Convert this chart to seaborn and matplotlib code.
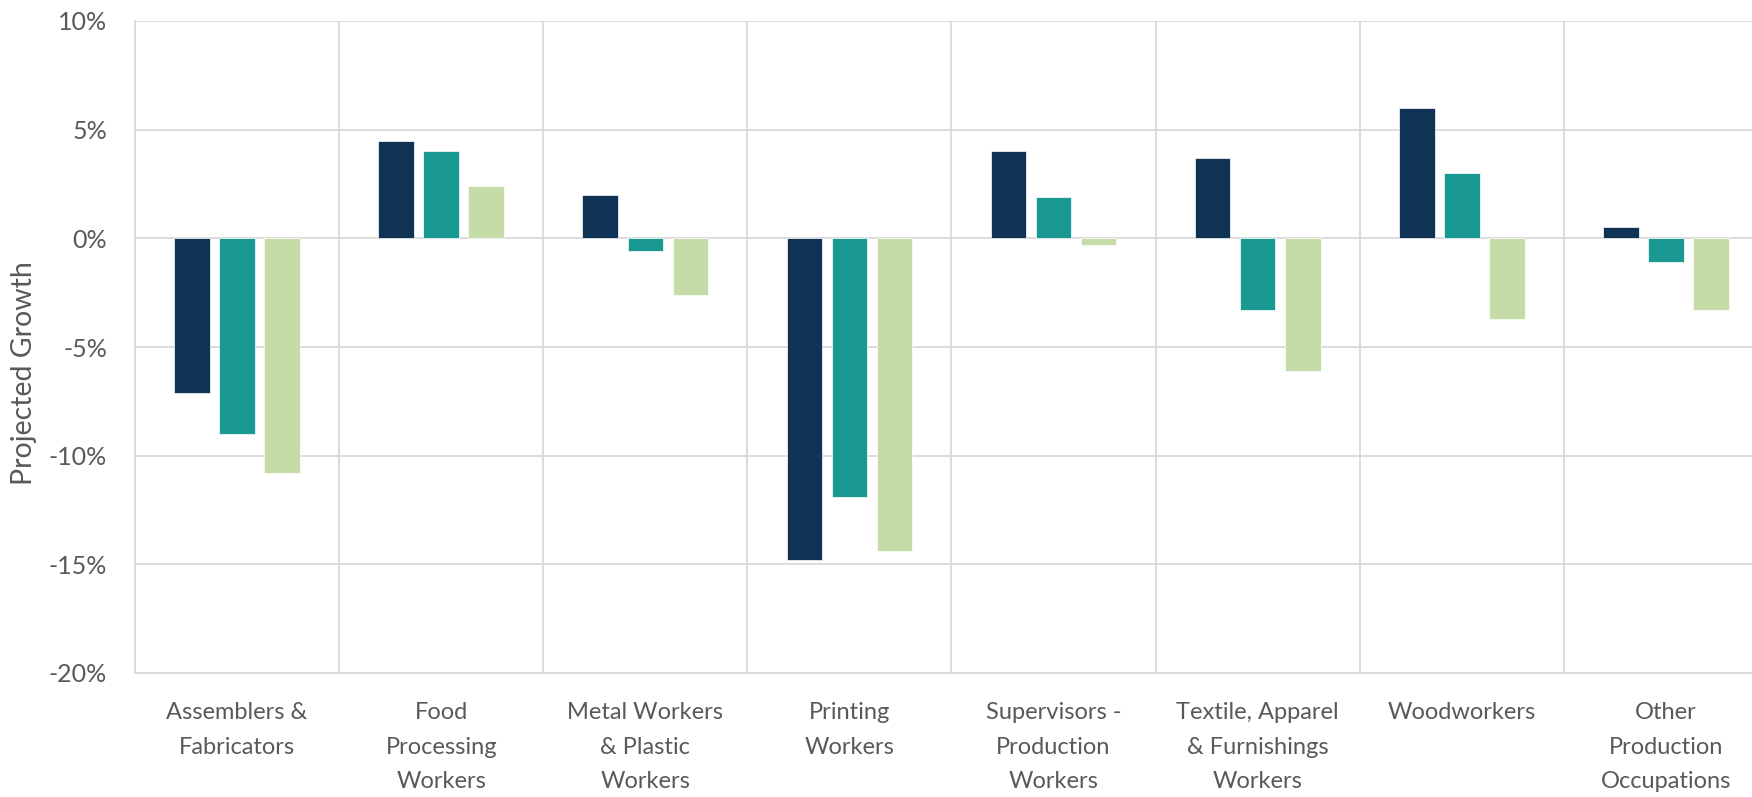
import matplotlib
matplotlib.use("Agg")
import matplotlib.pyplot as plt
from matplotlib.ticker import FuncFormatter, FixedLocator
import seaborn as sns
import pandas as pd
import numpy as np

# Chart data (projected growth, percent)
categories = [
    "Assemblers &\nFabricators",
    "Food\nProcessing\nWorkers",
    "Metal Workers\n& Plastic\nWorkers",
    "Printing\nWorkers",
    "Supervisors -\nProduction\nWorkers",
    "Textile, Apparel\n& Furnishings\nWorkers",
    "Woodworkers",
    "Other\nProduction\nOccupations",
]
series_names = ["Series 1", "Series 2", "Series 3"]
series_1 = [-7.1, 4.5, 2.0, -14.8, 4.0, 3.7, 6.0, 0.5]
series_2 = [-9.0, 4.0, -0.6, -11.9, 1.9, -3.3, 3.0, -1.1]
series_3 = [-10.8, 2.4, -2.6, -14.4, -0.3, -6.1, -3.7, -3.3]
y_ticks = [-20, -15, -10, -5, 0, 5, 10]

colors = ["#0e3354", "#1a9892", "#c5dca9"]
text_color = "#595959"
grid_color = "#d9d9d9"

# Long-form table for seaborn
df = pd.DataFrame({
    "occupation": categories * 3,
    "series": [s for s in series_names for _ in categories],
    "growth": series_1 + series_2 + series_3,
})

sns.set_theme(style="white")
plt.rcParams["font.family"] = ["Lato", "DejaVu Sans"]

fig = plt.figure(figsize=(17.52, 7.97), dpi=100)
ax = fig.add_axes([135 / 1752, 1 - 673 / 797, 1633 / 1752, 652 / 797])

sns.barplot(
    data=df, x="occupation", y="growth", hue="series",
    palette=colors, saturation=1, order=categories, hue_order=series_names,
    width=0.662, gap=0.21, errorbar=None, legend=False,
    edgecolor="white", linewidth=0.5, ax=ax, zorder=3,
)

# Axes styling
ax.set_ylim(-20, 10)
ax.set_xlim(-0.5, len(categories) - 0.5)
ax.yaxis.set_major_locator(FixedLocator(y_ticks))
ax.yaxis.set_major_formatter(FuncFormatter(lambda v, p: f"{v:.0f}%"))
ax.yaxis.grid(True, color=grid_color, linewidth=1.3)
ax.xaxis.set_minor_locator(FixedLocator(np.arange(-0.5, len(categories), 1.0)))
ax.xaxis.grid(True, which="minor", color=grid_color, linewidth=1.3)
ax.xaxis.grid(False, which="major")
ax.set_axisbelow(True)

for side in ["top", "right"]:
    ax.spines[side].set_visible(False)
for side in ["left", "bottom"]:
    ax.spines[side].set_color(grid_color)
    ax.spines[side].set_linewidth(1.3)

ax.tick_params(axis="both", which="both", length=0, colors=text_color, labelsize=17)
ax.tick_params(axis="y", pad=20, labelsize=18)
ax.tick_params(axis="x", pad=21)
for lbl in ax.get_xticklabels():
    lbl.set_linespacing(1.8)

ax.set_xlabel("")
ax.set_ylabel("Projected Growth", fontsize=20.5, color=text_color, va="center")
ax.yaxis.set_label_coords(-0.068, 0.46)

fig.savefig("out.png", dpi=100)
